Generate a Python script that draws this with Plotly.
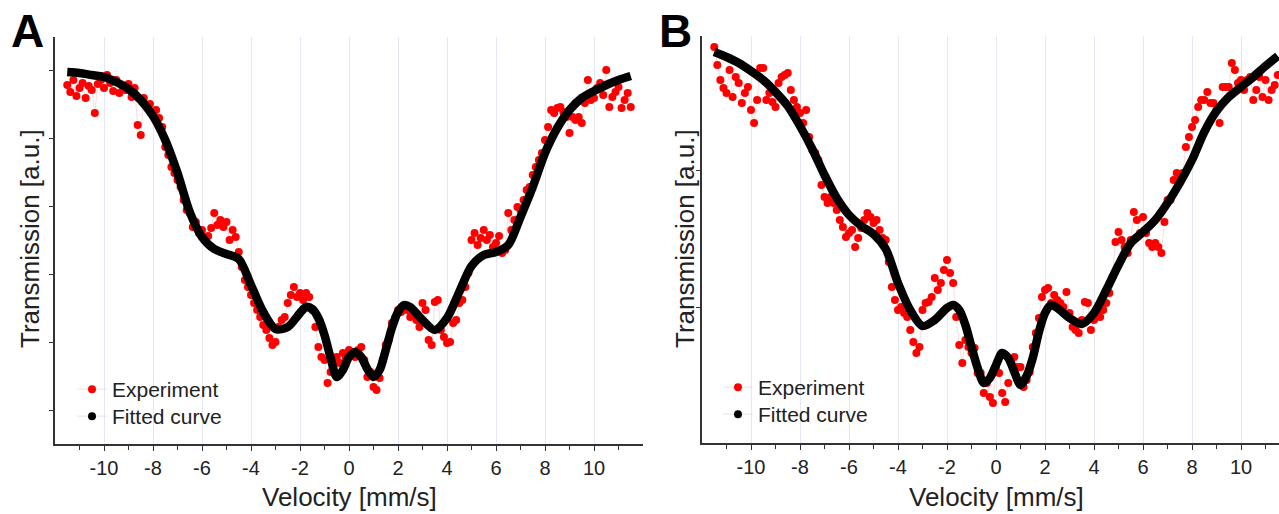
import numpy as np
import plotly.graph_objects as go

# ---------------- data ----------------
# velocity channels of the folded spectrum (mm/s)
velocity = np.linspace(-11.5, 11.5, 185)

exp_A = [0.9985, 0.9978, 0.9990, 0.9974, 0.9982, 0.9987, 0.9972, 0.9984,
         0.9980, 0.9957, 0.9986, 0.9990, 0.9982, 0.9995, 0.9987, 0.9979,
         0.9990, 0.9977, 0.9984, 0.9980, 0.9986, 0.9973, 0.9982, 0.9945,
         0.9935, 0.9972, 0.9963, 0.9966, 0.9958, 0.9960, 0.9952, 0.9943,
         0.9923, 0.9915, 0.9903, 0.9897, 0.9890, 0.9883, 0.9870, 0.9860,
         0.9857, 0.9843, 0.9848, 0.9837, 0.9840, 0.9830, 0.9834, 0.9842,
         0.9857, 0.9845, 0.9850, 0.9843, 0.9848, 0.9830, 0.9840, 0.9833,
         0.9818, 0.9803, 0.9790, 0.9783, 0.9775, 0.9767, 0.9760, 0.9753,
         0.9745, 0.9740, 0.9732, 0.9725, 0.9728, 0.9743, 0.9750, 0.9753,
         0.9767, 0.9775, 0.9783, 0.9773, 0.9777, 0.9770, 0.9777, 0.9773,
         0.9760, 0.9743, 0.9723, 0.9713, 0.9710, 0.9687, 0.9698, 0.9705,
         0.9713, 0.9707, 0.9717, 0.9712, 0.9720, 0.9716, 0.9713, 0.9720,
         0.9723, 0.9710, 0.9693, 0.9698, 0.9683, 0.9680, 0.9692, 0.9710,
         0.9725, 0.9730, 0.9747, 0.9752, 0.9760, 0.9758, 0.9765, 0.9760,
         0.9753, 0.9758, 0.9750, 0.9743, 0.9767, 0.9760, 0.9730, 0.9725,
         0.9768, 0.9770, 0.9740, 0.9733, 0.9727, 0.9728, 0.9747, 0.9750,
         0.9767, 0.9770, 0.9783, 0.9797, 0.9830, 0.9837, 0.9825, 0.9832,
         0.9840, 0.9830, 0.9835, 0.9823, 0.9827, 0.9834, 0.9817, 0.9820,
         0.9857, 0.9840, 0.9850, 0.9863, 0.9860, 0.9870, 0.9880, 0.9883,
         0.9895, 0.9903, 0.9910, 0.9917, 0.9930, 0.9943, 0.9960, 0.9957,
         0.9962, 0.9963, 0.9958, 0.9953, 0.9937, 0.9953, 0.9950, 0.9953,
         0.9947, 0.9967, 0.9990, 0.9970, 0.9972, 0.9982, 0.9987, 0.9975,
         1.0000, 0.9963, 0.9973, 0.9978, 0.9983, 0.9962, 0.9970, 0.9977,
         0.9963]

exp_B = [1.0023, 1.0005, 0.9990, 0.9982, 0.9977, 1.0000, 0.9973, 0.9993,
         0.9987, 0.9967, 0.9977, 0.9983, 0.9960, 0.9947, 0.9970, 1.0002,
         1.0002, 0.9970, 0.9977, 0.9968, 0.9963, 0.9987, 0.9993, 0.9995,
         0.9997, 0.9980, 0.9970, 0.9963, 0.9957, 0.9947, 0.9960, 0.9933,
         0.9920, 0.9917, 0.9910, 0.9885, 0.9873, 0.9867, 0.9873, 0.9867,
         0.9860, 0.9850, 0.9843, 0.9833, 0.9837, 0.9840, 0.9823, 0.9832,
         0.9842, 0.9850, 0.9857, 0.9853, 0.9847, 0.9850, 0.9840, 0.9832,
         0.9830, 0.9808, 0.9783, 0.9770, 0.9760, 0.9763, 0.9757, 0.9753,
         0.9740, 0.9728, 0.9717, 0.9723, 0.9760, 0.9767, 0.9768, 0.9773,
         0.9792, 0.9780, 0.9787, 0.9800, 0.9810, 0.9797, 0.9787, 0.9753,
         0.9725, 0.9707, 0.9730, 0.9723, 0.9717, 0.9722, 0.9697, 0.9697,
         0.9677, 0.9687, 0.9673, 0.9667, 0.9703, 0.9697, 0.9677, 0.9668,
         0.9687, 0.9707, 0.9713, 0.9703, 0.9703, 0.9683, 0.9690, 0.9698,
         0.9723, 0.9737, 0.9752, 0.9773, 0.9780, 0.9782, 0.9767, 0.9775,
         0.9770, 0.9767, 0.9763, 0.9778, 0.9757, 0.9743, 0.9740, 0.9737,
         0.9750, 0.9768, 0.9767, 0.9740, 0.9750, 0.9757, 0.9753, 0.9760,
         0.9767, 0.9777, 0.9793, 0.9828, 0.9838, 0.9830, 0.9823, 0.9817,
         0.9830, 0.9858, 0.9850, 0.9837, 0.9853, 0.9837, 0.9827, 0.9823,
         0.9827, 0.9823, 0.9817, 0.9848, 0.9870, 0.9870, 0.9890, 0.9897,
         0.9890, 0.9897, 0.9923, 0.9933, 0.9943, 0.9950, 0.9963, 0.9970,
         0.9970, 0.9978, 0.9967, 0.9967, 0.9960, 0.9947, 0.9983, 0.9983,
         0.9983, 1.0007, 1.0000, 0.9987, 0.9990, 0.9980, 0.9990, 0.9993,
         0.9970, 0.9980, 0.9993, 0.9973, 0.9990, 0.9970, 0.9980, 0.9985,
         0.9995]

fit_velocity = [-11.5, -11, -10.5, -10, -9.5, -9, -8.5, -8, -7.5, -7,
                -6.5, -6, -5.5, -5, -4.5, -4, -3.5, -3, -2.5, -2,
                -1.75, -1.5, -1.25, -1, -0.75, -0.5, -0.25, 0, 0.25,
                0.5, 0.75, 1, 1.25, 1.5, 1.75, 2, 2.25, 2.5,
                3, 3.5, 4, 4.5, 5, 5.5, 6, 6.5, 7, 7.5, 8, 8.5, 9, 9.5,
                10, 10.5, 11, 11.5]

fit_A = [0.9998, 0.9997, 0.9995, 0.9993, 0.9988, 0.9981, 0.9970, 0.9954, 0.9930, 0.9897,
         0.9858, 0.9833, 0.9821, 0.9816, 0.9811, 0.9785, 0.9758, 0.9741, 0.9743, 0.9757,
         0.9763, 0.9761, 0.9752, 0.9735, 0.9712, 0.9693, 0.9700, 0.9713, 0.9718,
         0.9713, 0.9701, 0.9693, 0.9700, 0.9720, 0.9742, 0.9758, 0.9765, 0.9763,
         0.9750, 0.9740, 0.9752, 0.9778, 0.9804, 0.9815, 0.9818, 0.9825, 0.9853, 0.9883,
         0.9917, 0.9942, 0.9960, 0.9972, 0.9979, 0.9985, 0.9990, 0.9994]

fit_B = [1.0018, 1.0013, 1.0007, 0.9999, 0.9990, 0.9978, 0.9964, 0.9944, 0.9921, 0.9895,
         0.9872, 0.9855, 0.9844, 0.9836, 0.9821, 0.9787, 0.9760, 0.9744, 0.9750, 0.9762,
         0.9765, 0.9760, 0.9745, 0.9723, 0.9702, 0.9687, 0.9692, 0.9705, 0.9717,
         0.9712, 0.9698, 0.9685, 0.9694, 0.9712, 0.9738, 0.9757, 0.9765, 0.9762,
         0.9752, 0.9746, 0.9757, 0.9780, 0.9805, 0.9827, 0.9838, 0.9850, 0.9867, 0.9887,
         0.9910, 0.9938, 0.9959, 0.9973, 0.9983, 0.9993, 1.0004, 1.0014]

x_major = [-10, -8, -6, -4, -2, 0, 2, 4, 6, 8, 10]
x_major_text = ["-10", "-8", "-6", "-4", "-2", "0", "2", "4", "6", "8", "10"]
x_minor = [-11, -9, -7, -5, -3, -1, 1, 3, 5, 7, 9, 11]
y_ticks_A = [0.9660, 0.9728, 0.9796, 0.9864, 0.9932, 1.0000]
y_ticks_B = [0.9763, 0.9900]

# ---------------- figure ----------------
W, H = 1279, 514
FONT = "Liberation Sans, Arial, sans-serif"
RED = "#ff0000"
fig = go.Figure()

def add_panel(xa, ya, exp, fit, leg_exp, leg_fit):
    fig.add_trace(go.Scatter(
        x=velocity, y=exp, mode="lines+markers", name="Experiment",
        xaxis=xa, yaxis=ya, legend=leg_exp,
        marker=dict(color=RED, size=8),
        line=dict(color="rgba(255,0,0,0.15)", width=1)))
    fig.add_trace(go.Scatter(
        x=fit_velocity, y=fit, mode="lines", name="Fitted curve",
        xaxis=xa, yaxis=ya, showlegend=False,
        line=dict(color="black", width=8.5, shape="spline", smoothing=0.8)))
    # legend entry for the fitted curve (drawn as dot + faint line)
    fig.add_trace(go.Scatter(
        x=[None], y=[None], mode="lines+markers", name="Fitted curve",
        xaxis=xa, yaxis=ya, legend=leg_fit,
        marker=dict(color="black", size=8),
        line=dict(color="rgba(170,175,220,0.35)", width=1)))

add_panel("x", "y", exp_A, fit_A, "legend", "legend3")
add_panel("x2", "y2", exp_B, fit_B, "legend2", "legend4")

def px_x(p):
    return p / W

def px_y(p):
    return 1 - p / H

xcommon = dict(
    showline=True, linecolor="#333", linewidth=1.5, mirror=False,
    ticks="outside", ticklen=5, tickwidth=1, tickcolor="#333",
    tickmode="array", tickvals=x_major, ticktext=x_major_text,
    minor=dict(tickmode="array", tickvals=x_minor, ticks="outside", ticklen=4,
               tickwidth=1, tickcolor="#333", showgrid=False),
    showgrid=True, gridcolor="#e4e7f4", gridwidth=1,
    zeroline=False, automargin=False,
    tickfont=dict(family=FONT, size=20, color="#222"),
)
ycommon = dict(
    showline=True, linecolor="#333", linewidth=1.5,
    ticks="outside", ticklen=4, tickwidth=1, tickcolor="#333",
    showticklabels=False, showgrid=False, zeroline=False,
    tickmode="array", automargin=False,
)

def leg(xp, ytop):
    return dict(x=px_x(xp), y=px_y(ytop), xanchor="left", yanchor="top",
                bgcolor="rgba(0,0,0,0)", borderwidth=0,
                font=dict(family=FONT, size=21, color="#222"), itemwidth=30)

fig.update_layout(
    width=W, height=H,
    margin=dict(l=0, r=0, t=0, b=0, pad=0),
    paper_bgcolor="white", plot_bgcolor="white",
    font=dict(family=FONT, color="#222"),
    xaxis=dict(domain=[px_x(55), px_x(643)], range=[-12, 12], anchor="y", **xcommon),
    yaxis=dict(domain=[px_y(444), px_y(37)], range=[0.9626, 1.0033], anchor="x",
               tickvals=y_ticks_A, **ycommon),
    xaxis2=dict(domain=[px_x(702), 1.0], range=[-12, 11.55], anchor="y2", **xcommon),
    yaxis2=dict(domain=[px_y(443), px_y(36)], range=[0.9627, 1.0034], anchor="x2",
                tickvals=y_ticks_B, **ycommon),
    legend=leg(72, 369),
    legend3=leg(72, 396),
    legend2=leg(718, 367),
    legend4=leg(718, 394),
    showlegend=True,
)

annotations = [
    dict(text="<b>A</b>", x=px_x(27), y=px_y(31), font=dict(size=46, family=FONT, color="black")),
    dict(text="<b>B</b>", x=px_x(676), y=px_y(31), font=dict(size=46, family=FONT, color="black")),
    dict(text="Velocity [mm/s]", x=px_x(349), y=px_y(497), font=dict(size=26, family=FONT, color="#222")),
    dict(text="Velocity [mm/s]", x=px_x(996), y=px_y(497), font=dict(size=26, family=FONT, color="#222")),
    dict(text="Transmission [a.u.]", x=px_x(30), y=px_y(239), textangle=-90,
         font=dict(size=26, family=FONT, color="#222")),
    dict(text="Transmission [a.u.]", x=px_x(685), y=px_y(239), textangle=-90,
         font=dict(size=26, family=FONT, color="#222")),
]
for a in annotations:
    a.update(xref="paper", yref="paper", showarrow=False, xanchor="center", yanchor="middle")
fig.update_layout(annotations=annotations)

fig.write_html(
    "out.html",
    config={"displayModeBar": False},
    post_script="document.body.style.margin='0px';document.body.style.padding='0px';"
                "document.body.style.overflow='hidden';",
)
